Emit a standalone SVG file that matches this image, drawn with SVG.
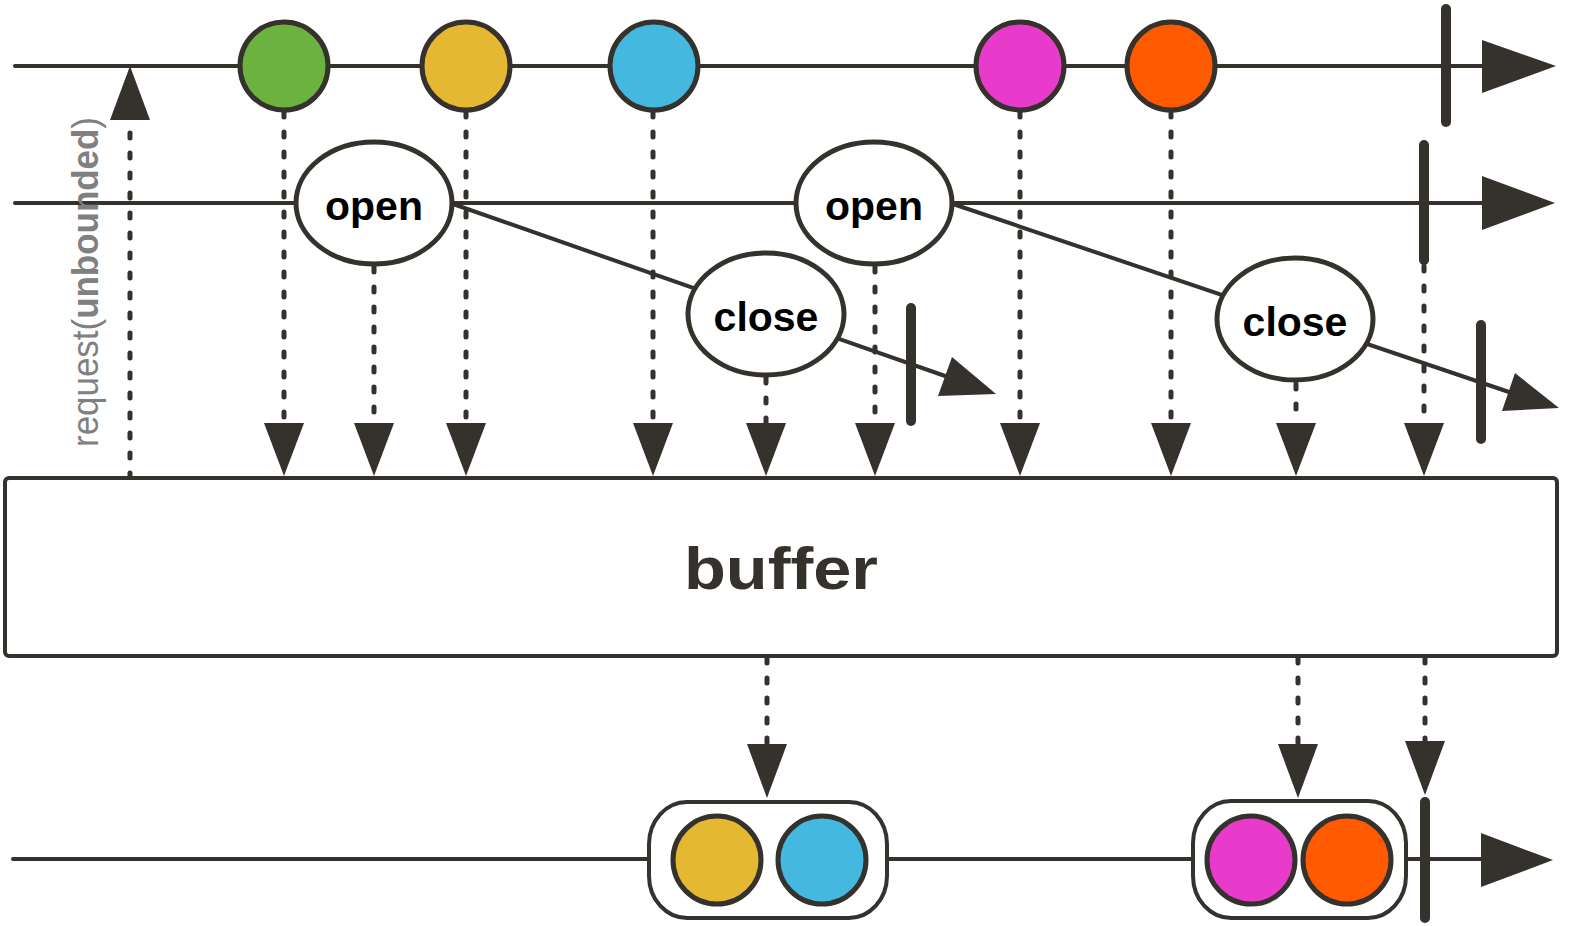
<svg xmlns="http://www.w3.org/2000/svg" width="1570" height="926" viewBox="0 0 1570 926">
<style>
.ln{stroke:#35312c;stroke-width:4;fill:none;stroke-linecap:round}
.dash{stroke:#35312c;stroke-width:5;fill:none;stroke-linecap:round;stroke-dasharray:5 15}
.bar{stroke:#35312c;stroke-width:10;stroke-linecap:round}
.head{fill:#35312c}
.mb{stroke:#35312c;stroke-width:5}
.ev{fill:#fff;stroke:#35312c;stroke-width:5}
.lbl{font-family:"Liberation Sans",Arial,sans-serif;font-weight:bold;font-size:41px;fill:#000;text-anchor:middle}
</style>
<rect width="1570" height="926" fill="#fff"/>
<g id="connectors">
  <line class="ln" x1="15" y1="66" x2="1490" y2="66"/>
  <polygon class="head" points="1482,40 1556,66 1482,93"/>
  <line class="ln" x1="15" y1="203" x2="1490" y2="203"/>
  <polygon class="head" points="1482,176 1555,203 1482,230"/>
  <line class="ln" x1="13" y1="859" x2="1490" y2="859"/>
  <polygon class="head" points="1481,833 1553,860 1481,887"/>
  <line class="ln" x1="453" y1="204" x2="948" y2="377"/>
  <polygon class="head" points="952,357 996,394 938,396"/>
  <line class="ln" x1="953" y1="204" x2="1509" y2="392"/>
  <polygon class="head" points="1515,373 1559,408 1502,411"/>
  <line class="dash" x1="130" y1="478" x2="130" y2="120"/>
  <polygon class="head" points="110,120 150,120 130,66"/>
  <line class="dash" x1="284" y1="112" x2="284" y2="423"/>
  <polygon class="head" points="264,423 304,423 284,476"/>
  <line class="dash" x1="374" y1="267" x2="374" y2="423"/>
  <polygon class="head" points="354,423 394,423 374,476"/>
  <line class="dash" x1="466" y1="112" x2="466" y2="423"/>
  <polygon class="head" points="446,423 486,423 466,476"/>
  <line class="dash" x1="653" y1="112" x2="653" y2="423"/>
  <polygon class="head" points="633,423 673,423 653,476"/>
  <line class="dash" x1="766" y1="378" x2="766" y2="423"/>
  <polygon class="head" points="746,423 786,423 766,476"/>
  <line class="dash" x1="875" y1="267" x2="875" y2="423"/>
  <polygon class="head" points="855,423 895,423 875,476"/>
  <line class="dash" x1="1020" y1="112" x2="1020" y2="423"/>
  <polygon class="head" points="1000,423 1040,423 1020,476"/>
  <line class="dash" x1="1171" y1="112" x2="1171" y2="423"/>
  <polygon class="head" points="1151,423 1191,423 1171,476"/>
  <line class="dash" x1="1296" y1="384" x2="1296" y2="423"/>
  <polygon class="head" points="1276,423 1316,423 1296,476"/>
  <line class="dash" x1="1424" y1="266" x2="1424" y2="423"/>
  <polygon class="head" points="1404,423 1444,423 1424,476"/>
  <line class="dash" x1="767" y1="658" x2="767" y2="744"/>
  <polygon class="head" points="747,744 787,744 767,798"/>
  <line class="dash" x1="1298" y1="658" x2="1298" y2="744"/>
  <polygon class="head" points="1278,744 1318,744 1298,798"/>
  <line class="dash" x1="1425" y1="658" x2="1425" y2="741"/>
  <polygon class="head" points="1405,741 1445,741 1425,795"/>
</g>
<g id="src-green"><circle class="mb" cx="284" cy="66" r="44" fill="#6cb23e"/></g>
<g id="src-yellow"><circle class="mb" cx="466" cy="66" r="44" fill="#e5b831"/></g>
<g id="src-blue"><circle class="mb" cx="654" cy="66" r="44" fill="#44b8de"/></g>
<g id="src-magenta"><circle class="mb" cx="1020" cy="66" r="44" fill="#e83bcc"/></g>
<g id="src-orange"><circle class="mb" cx="1171" cy="66" r="44" fill="#ff5a00"/></g>
<g id="src-complete"><line class="bar" x1="1446" y1="9" x2="1446" y2="122"/></g>
<g id="open-complete"><line class="bar" x1="1424" y1="145" x2="1424" y2="260"/></g>
<g id="open1"><ellipse class="ev" cx="374" cy="203" rx="78" ry="61"/><text class="lbl" x="374" y="220">open</text></g>
<g id="open2"><ellipse class="ev" cx="874" cy="203" rx="78" ry="61"/><text class="lbl" x="874" y="220">open</text></g>
<g id="close1"><ellipse class="ev" cx="766" cy="314" rx="78" ry="61"/><text class="lbl" x="766" y="331">close</text><line class="bar" x1="911" y1="308" x2="911" y2="421"/></g>
<g id="close2"><ellipse class="ev" cx="1295" cy="319" rx="78" ry="61"/><text class="lbl" x="1295" y="336">close</text><line class="bar" x1="1481" y1="325" x2="1481" y2="439"/></g>
<g id="request-label">
  <text transform="translate(98,447) rotate(-90)" font-family="'Liberation Sans',Arial,sans-serif" font-size="37" fill="#808080" textLength="330" lengthAdjust="spacingAndGlyphs">request(<tspan font-weight="bold">unbounded</tspan>)</text>
</g>
<g id="buffer">
  <rect x="5" y="478" width="1552" height="178" rx="4" fill="#fff" stroke="#35312c" stroke-width="4"/>
  <text x="781" y="589" font-family="'Liberation Sans',Arial,sans-serif" font-weight="bold" font-size="60" fill="#35312c" text-anchor="middle" textLength="194" lengthAdjust="spacingAndGlyphs">buffer</text>
</g>
<g id="out-buffer1">
  <rect x="649" y="802" width="238" height="116" rx="38" ry="42" fill="#fff" stroke="#35312c" stroke-width="4"/>
  <circle class="mb" cx="717" cy="860" r="44" fill="#e5b831"/>
  <circle class="mb" cx="822" cy="860" r="44" fill="#44b8de"/>
</g>
<g id="out-buffer2">
  <rect x="1193" y="801" width="213" height="117" rx="38" ry="42" fill="#fff" stroke="#35312c" stroke-width="4"/>
  <circle class="mb" cx="1251" cy="860" r="44" fill="#e83bcc"/>
  <circle class="mb" cx="1347" cy="860" r="44" fill="#ff5a00"/>
</g>
<g id="out-complete"><line class="bar" x1="1425" y1="802" x2="1425" y2="918"/></g>
</svg>
